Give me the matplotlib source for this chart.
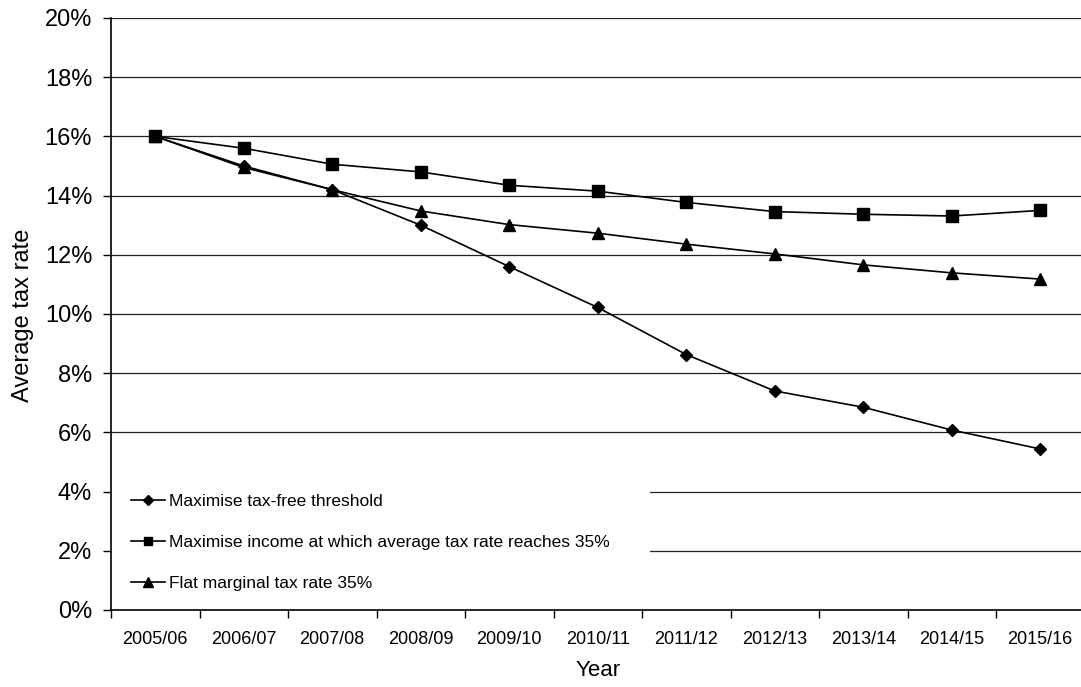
import matplotlib
matplotlib.use("Agg")
import matplotlib.pyplot as plt
from matplotlib.patches import Rectangle
from matplotlib.ticker import FixedLocator, PercentFormatter

plt.rcParams["font.family"] = ["Liberation Sans", "DejaVu Sans"]

years = ["2005/06", "2006/07", "2007/08", "2008/09", "2009/10", "2010/11",
         "2011/12", "2012/13", "2013/14", "2014/15", "2015/16"]

tax_free_threshold = [16.0, 15.0, 14.2, 13.0, 11.6, 10.22, 8.63, 7.4, 6.85, 6.08, 5.44]
income_at_35 = [16.0, 15.6, 15.06, 14.8, 14.35, 14.15, 13.77, 13.46, 13.37, 13.31, 13.5]
flat_marginal_35 = [16.0, 14.95, 14.2, 13.48, 13.02, 12.73, 12.36, 12.03, 11.66, 11.39, 11.18]

series_labels = ["Maximise tax-free threshold",
                 "Maximise income at which average tax rate reaches 35%",
                 "Flat marginal tax rate 35%"]

y_ticks = list(range(0, 21, 2))

W, H = 1081, 687
fig = plt.figure(figsize=(W / 100, H / 100), dpi=100)
ax = fig.add_axes([111 / W, (H - 610) / H, (1084.5 - 111) / W, (610 - 18) / H])

x = list(range(len(years)))

# horizontal gridlines (0% is the axis itself)
for v in y_ticks[1:]:
    ax.axhline(v, color="#222222", lw=0.9, zorder=1)

# white area behind the legend hides the lower gridlines
ax.add_patch(Rectangle((111, H - 602), 650 - 111, 122, transform=None,
                       facecolor="white", edgecolor="none", zorder=1.5))

lw = 1.2
ax.plot(x, tax_free_threshold, color="black", lw=lw, marker="D", ms=6,
        label=series_labels[0], zorder=3)
ax.plot(x, income_at_35, color="black", lw=lw, marker="s", ms=8,
        label=series_labels[1], zorder=3)
ax.plot(x, flat_marginal_35, color="black", lw=lw, marker="^", ms=9,
        label=series_labels[2], zorder=3)

ax.set_xlim(-0.5, len(years) - 0.5)
ax.set_ylim(0, 20)

ax.set_yticks(y_ticks)
ax.yaxis.set_major_formatter(PercentFormatter(decimals=0))
ax.tick_params(axis="y", direction="out", length=6, width=1, labelsize=17, pad=7.5)

# category boundaries carry the tick marks, centres carry the labels
ax.xaxis.set_major_locator(FixedLocator([i - 0.5 for i in range(len(years) + 1)]))
ax.set_xticklabels([])
ax.set_xticks(x, minor=True)
ax.set_xticklabels(years, minor=True)
ax.tick_params(axis="x", which="major", direction="out", length=6, width=1)
ax.tick_params(axis="x", which="minor", length=0, labelsize=13, pad=15)

for side in ("top", "right"):
    ax.spines[side].set_visible(False)
for side in ("left", "bottom"):
    ax.spines[side].set_linewidth(1.2)

fig.text(598 / W, (H - 670) / H, "Year", fontsize=16, ha="center", va="center")
fig.text(23 / W, (H - 315) / H, "Average tax rate", fontsize=17, rotation=90,
         ha="center", va="center")

leg = ax.legend(loc="lower left", bbox_to_anchor=(0.004, 0.005), frameon=False,
                fontsize=12.5, handlelength=2.0, handletextpad=0.2,
                labelspacing=1.5, markerscale=0.8)

fig.savefig("out.png", dpi=100)
